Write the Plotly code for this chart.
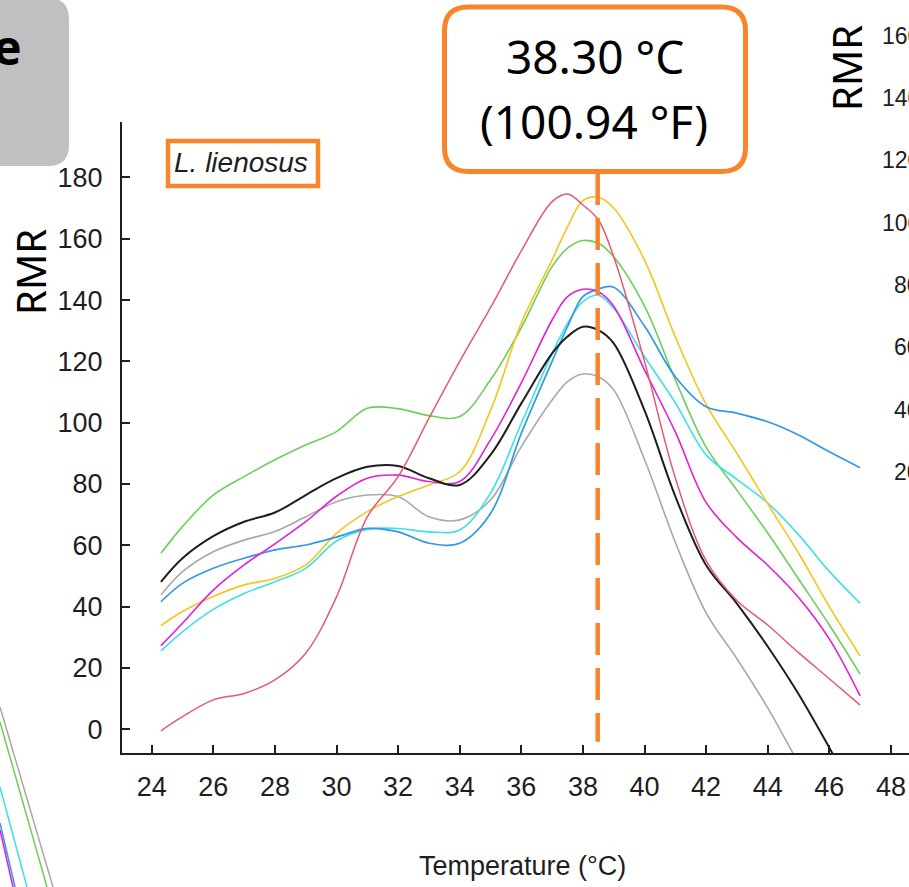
import plotly.graph_objects as go

# ---------------- data ----------------
temps = [24.3, 25, 26, 27, 28, 29, 30, 31, 32, 33, 34, 35, 36, 37, 37.5, 38, 38.5, 39, 40, 41, 42, 43, 44, 45, 46, 47]

green = [57.4, 66.1, 76.4, 82.4, 87.9, 92.7, 97.1, 104.7, 104.6, 102.3, 102.0, 114.0, 131.0, 150.9, 156.9, 159.4, 158.5, 154.1, 138.0, 114.0, 92.0, 78.0, 64.0, 49.0, 34.0, 18.0]
yellow = [33.8, 38.4, 43.3, 47.1, 49.2, 53.6, 63.9, 71.0, 75.9, 79.7, 84.0, 104.0, 132.5, 153.1, 163.9, 172.4, 173.5, 170.0, 153.0, 128.0, 106.0, 90.0, 73.5, 57.5, 40.0, 23.9]
cyan = [25.6, 31.8, 39.1, 44.3, 48.1, 52.5, 61.4, 65.2, 65.5, 64.4, 65.0, 77.0, 99.8, 122.6, 132.4, 139.5, 141.6, 137.3, 121.5, 106.5, 89.5, 81.5, 73.8, 63.5, 51.5, 41.1]
blue = [41.6, 47.6, 52.5, 55.8, 58.5, 60.1, 62.7, 65.5, 64.4, 60.7, 60.7, 70.4, 96.5, 120.0, 131.3, 141.1, 143.6, 144.2, 131.5, 115.0, 105.2, 103.1, 100.3, 96.0, 90.5, 85.3]
magenta = [27.3, 34.6, 45.4, 53.6, 60.5, 67.7, 76.0, 81.9, 82.9, 80.8, 80.8, 94.4, 113.0, 133.5, 141.1, 143.5, 142.7, 138.0, 117.2, 97.0, 74.0, 62.5, 53.5, 43.0, 29.5, 10.9]
black = [48.1, 55.8, 63.0, 67.7, 70.7, 76.4, 81.9, 85.6, 85.9, 81.9, 79.7, 89.5, 106.3, 122.6, 128.1, 131.3, 130.2, 125.9, 104.0, 76.0, 53.5, 41.0, 27.0, 11.5, -6.0, -24.0]
gray = [43.8, 51.4, 57.9, 61.7, 64.5, 69.3, 74.2, 76.4, 75.9, 69.3, 68.3, 74.8, 92.2, 107.4, 113.4, 115.9, 115.0, 110.7, 88.0, 61.0, 38.0, 23.0, 7.0, -11.0, -28.0, -45.0]
red = [-0.5, 4.1, 9.6, 11.7, 16.1, 24.8, 43.2, 69.3, 82.4, 101.4, 120.0, 137.5, 156.0, 172.1, 174.6, 171.0, 166.2, 154.1, 120.0, 82.0, 55.0, 42.0, 34.0, 25.0, 16.5, 7.9]

series_names = ["gray", "green", "cyan", "yellow", "blue", "magenta", "black", "red"]
series_values = [gray, green, cyan, yellow, blue, magenta, black, red]
series_colors = ["#a8a8a8", "#6ccf5a", "#3ee0ea", "#f7c41c", "#3399e6", "#e020d8", "#1e1e1e", "#e6596e"]
series_widths = [1.6, 1.6, 1.6, 1.6, 1.7, 1.6, 2.0, 1.5]

x_ticks = list(range(24, 49, 2))
y_ticks = list(range(0, 181, 20))

marker_temp = 38.48          # where the dashed reference line is drawn
box_line1 = "38.30 °C"
box_line2 = "(100.94 °F)"
species = "L. lienosus"
x_title = "Temperature (°C)"
y_title = "RMR"
right_panel_ticks = ["160", "140", "120", "100", "80", "60", "40", "20"]

ORANGE = "#f8842c"

# ---------------- layout geometry ----------------
W, H = 909, 887
PL, PR, PT, PB = 122, 909, 122, 753


def px_x(x):
    return (x - PL) / (PR - PL)


def px_y(y):
    return (PB - y) / (PB - PT)


fig = go.Figure()
for name, vals, col, wd in zip(series_names, series_values, series_colors, series_widths):
    fig.add_trace(go.Scatter(
        x=temps, y=vals, mode="lines", name=name,
        line=dict(color=col, width=wd, shape="spline", smoothing=1.0),
        hoverinfo="skip",
    ))

tick_font = dict(family="Liberation Sans, Arial, sans-serif", size=27, color="#1e1e1e")

fig.update_layout(
    width=W, height=H,
    margin=dict(l=PL, r=W - PR, t=PT, b=H - PB),
    paper_bgcolor="white", plot_bgcolor="white",
    showlegend=False,
    xaxis=dict(
        range=[23.036, 48.587], tickvals=x_ticks, ticktext=[str(v) for v in x_ticks],
        ticks="inside", ticklen=8, tickwidth=2, tickcolor="#1e1e1e",
        showline=True, linecolor="#1e1e1e", linewidth=2,
        showgrid=False, zeroline=False, tickfont=tick_font,
        ticklabelstandoff=9, automargin=False,
    ),
    yaxis=dict(
        range=[-7.73, 198.07], tickvals=y_ticks, ticktext=[str(v) for v in y_ticks],
        ticks="inside", ticklen=8, tickwidth=2, tickcolor="#1e1e1e",
        showline=True, linecolor="#1e1e1e", linewidth=2,
        showgrid=False, zeroline=False, tickfont=tick_font,
        ticklabelstandoff=12, automargin=False,
    ),
)

shapes = []

# dashed reference line (from box bottom down to just above axis)
shapes.append(dict(type="line", xref="x", yref="y", x0=marker_temp, x1=marker_temp,
                   y0=181.4, y1=-4.1, line=dict(color=ORANGE, width=4.5, dash="32px,13px"), layer="above"))


def rounded_path(l, t, r, b, rad, corners=(True, True, True, True)):
    # corners: tl, tr, br, bl ; coordinates in pixels -> paper
    tl, tr, br, bl = corners
    P = lambda x, y: f"{px_x(x):.5f},{px_y(y):.5f}"
    s = f"M {P(l + (rad if tl else 0), t)} "
    s += f"L {P(r - (rad if tr else 0), t)} "
    if tr:
        s += f"Q {P(r, t)} {P(r, t + rad)} "
    s += f"L {P(r, b - (rad if br else 0))} "
    if br:
        s += f"Q {P(r, b)} {P(r - rad, b)} "
    s += f"L {P(l + (rad if bl else 0), b)} "
    if bl:
        s += f"Q {P(l, b)} {P(l, b - rad)} "
    s += f"L {P(l, t + (rad if tl else 0))} "
    if tl:
        s += f"Q {P(l, t)} {P(l + rad, t)} "
    return s + "Z"


# orange rounded temperature box
shapes.append(dict(type="path", xref="paper", yref="paper",
                   path=rounded_path(444.5, 7, 745.5, 171.5, 24),
                   line=dict(color=ORANGE, width=5), fillcolor="white", layer="above"))

# species box
shapes.append(dict(type="rect", xref="paper", yref="paper",
                   x0=px_x(168), x1=px_x(318), y0=px_y(186), y1=px_y(141),
                   line=dict(color=ORANGE, width=4.5), fillcolor="white", layer="above"))

# gray rounded box from neighbouring panel (top-left)
shapes.append(dict(type="path", xref="paper", yref="paper",
                   path=rounded_path(-20, -2, 69, 166, 21, corners=(False, True, True, False)),
                   line=dict(width=0), fillcolor="#c0c0c0", layer="above"))

# fragments of neighbouring panel curves (bottom-left)
neighbor_fragments = [
    ("#a8a8a8", (0, 707), (53, 887)),
    ("#6ccf5a", (0, 722), (47, 887)),
    ("#3ee0ea", (0, 787), (27, 887)),
    ("#3399e6", (0, 823), (15, 887)),
    ("#e020d8", (0, 830), (13, 887)),
]
for col, (xa, ya), (xb, yb) in neighbor_fragments:
    shapes.append(dict(type="line", xref="paper", yref="paper",
                       x0=px_x(xa), y0=px_y(ya), x1=px_x(xb), y1=px_y(yb),
                       line=dict(color=col, width=1.5), layer="above"))

fig.update_layout(shapes=shapes)

ann = []
box_font = dict(family="Noto Sans, sans-serif", size=46, color="black")
ann.append(dict(text=box_line1, x=px_x(595), y=px_y(56), xref="paper", yref="paper",
                showarrow=False, xanchor="center", yanchor="middle", font=box_font))
ann.append(dict(text=box_line2, x=px_x(594), y=px_y(121), xref="paper", yref="paper",
                showarrow=False, xanchor="center", yanchor="middle", font=box_font))
ann.append(dict(text=f"<i>{species}</i>", x=px_x(241), y=px_y(162), xref="paper", yref="paper",
                showarrow=False, xanchor="center", yanchor="middle",
                font=dict(family="Liberation Sans, Arial, sans-serif", size=28, color="#1e1e1e")))
ann.append(dict(text=x_title, x=px_x(522), y=px_y(866), xref="paper", yref="paper",
                showarrow=False, xanchor="center", yanchor="middle",
                font=dict(family="Liberation Sans, Arial, sans-serif", size=27, color="#1e1e1e")))
rmr_font = dict(family="Noto Sans, sans-serif", size=40, color="black")
ann.append(dict(text=y_title, x=px_x(30), y=px_y(272), xref="paper", yref="paper",
                showarrow=False, xanchor="center", yanchor="middle", textangle=-90, font=rmr_font))
ann.append(dict(text=y_title, x=px_x(846), y=px_y(68), xref="paper", yref="paper",
                showarrow=False, xanchor="center", yanchor="middle", textangle=-90, font=rmr_font))
# bold letter from neighbouring panel title
ann.append(dict(text="<b>e</b>", x=px_x(24), y=px_y(46), xref="paper", yref="paper",
                showarrow=False, xanchor="right", yanchor="middle",
                font=dict(family="Noto Sans, sans-serif", size=48, color="black")))
# tick labels of neighbouring (right) panel
for i, lab in enumerate(right_panel_ticks):
    ann.append(dict(text=lab, x=px_x(922), y=px_y(35.8 + 62.3 * i), xref="paper", yref="paper",
                    showarrow=False, xanchor="right", yanchor="middle",
                    font=dict(family="Liberation Sans, Arial, sans-serif", size=23, color="#1e1e1e")))

fig.update_layout(annotations=ann)

fig.write_html("out.html")
